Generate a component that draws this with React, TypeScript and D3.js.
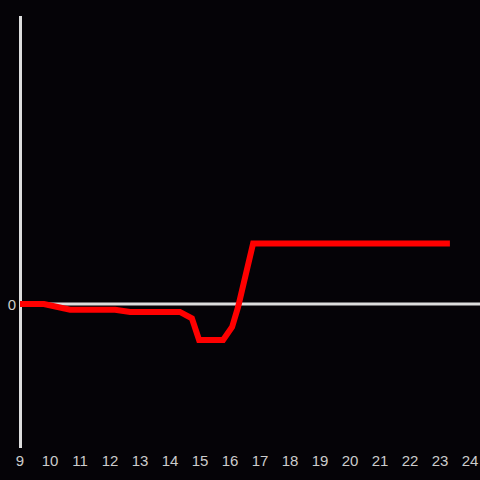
import React from "react";
import * as d3 from "d3";

const hours = [9, 9.8, 10.67, 12.17, 12.67, 14.33, 14.73, 14.97, 15.77, 16.07, 16.27, 16.77, 16.93, 23.33];
const values = [0, 0, -4, -4, -5.5, -5.5, -10, -25, -25, -16, -2, 42, 42, 42];
const xTicks = [9, 10, 11, 12, 13, 14, 15, 16, 17, 18, 19, 20, 21, 22, 23, 24];
const yTicks = [0];

export default function App() {
  const W = 480, H = 480;
  const x = d3.scaleLinear().domain([9, 24]).range([20, 470]);
  const y = d3.scaleLinear().domain([-100, 200]).range([448, 16]);
  const data = hours.map((h, i) => [h, values[i]] as [number, number]);
  const line = d3.line<[number, number]>().x(d => x(d[0])).y(d => y(d[1]));
  return (
    <svg width={W} height={H} style={{ position: "absolute", left: 0, top: 0, background: "#050307" }}>
      <rect x={0} y={0} width={W} height={H} fill="#050307" />
      <line x1={20.5} x2={20.5} y1={16} y2={448} stroke="#dddddd" strokeWidth={3} />
      <line x1={20} x2={480} y1={y(0)} y2={y(0)} stroke="#dddddd" strokeWidth={3} />
      {xTicks.map(t => (
        <text key={t} x={x(t)} y={466} fill="#cccccc" fontSize={15} textAnchor="middle"
          fontFamily="'Liberation Sans', Arial, sans-serif">{t}</text>
      ))}
      {yTicks.map(t => (
        <text key={t} x={16} y={y(t) + 5.5} fill="#cccccc" fontSize={15} textAnchor="end"
          fontFamily="'Liberation Sans', Arial, sans-serif">{t}</text>
      ))}
      <path d={line(data) || ""} fill="none" stroke="#ff0000" strokeWidth={6} strokeLinejoin="miter" />
    </svg>
  );
}
